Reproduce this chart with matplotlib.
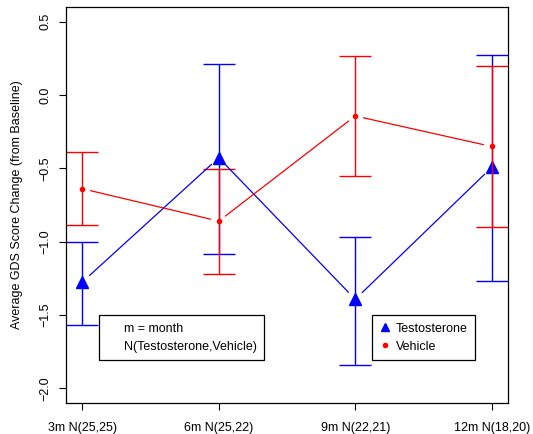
import numpy as np
import matplotlib
matplotlib.use("Agg")
import matplotlib.pyplot as plt
from matplotlib.lines import Line2D

plt.rcParams['font.family'] = ['Liberation Sans', 'DejaVu Sans']

# data
labels = ["3m N(25,25)", "6m N(25,22)", "9m N(22,21)", "12m N(18,20)"]
testo_mean = [-1.275, -0.428, -1.393, -0.494]
testo_upper = [-1.000, 0.210, -0.969, 0.272]
testo_lower = [-1.567, -1.087, -1.843, -1.268]
vehicle_mean = [-0.639, -0.860, -0.143, -0.351]
vehicle_upper = [-0.389, -0.505, 0.267, 0.199]
vehicle_lower = [-0.888, -1.218, -0.550, -0.899]

x = np.arange(1, len(labels) + 1)

fig = plt.figure(figsize=(5.33, 4.34), dpi=100)
ax = fig.add_axes([0.1238, 0.0714, 0.8293, 0.9125])

def draw_series(mean, lo, hi, color, marker, ms, gap):
    mean = np.array(mean)
    err = [mean - np.array(lo), np.array(hi) - mean]
    ax.errorbar(x, mean, yerr=err, fmt='none', ecolor=color, elinewidth=1.0,
                capsize=11.2, capthick=1.0)
    # R type="b": segments stop short of the points
    for i in range(len(x) - 1):
        ax.annotate("", xy=(x[i + 1], mean[i + 1]), xytext=(x[i], mean[i]),
                    arrowprops=dict(arrowstyle='-', color=color, lw=0.9,
                                    shrinkA=gap, shrinkB=gap))
    ax.plot(x, mean, marker, color=color, ms=ms, ls='none')

draw_series(testo_mean, testo_lower, testo_upper, 'blue', '^', 8, 7)
draw_series(vehicle_mean, vehicle_lower, vehicle_upper, 'red', 'o', 3, 6)

ax.set_xlim(0.88, 4.12)
ax.set_ylim(-2.1, 0.6)
ax.set_xticks(x)
ax.set_xticklabels(labels, fontsize=9)
ax.set_yticks([-2.0, -1.5, -1.0, -0.5, 0.0, 0.5])
ax.set_yticklabels(["\u22122.0", "\u22121.5", "\u22121.0", "\u22120.5", "0.0", "0.5"],
                   rotation=90, va='center', fontsize=9)
ax.tick_params(length=5, width=0.8)
ax.tick_params(axis='x', pad=8.5)
ax.tick_params(axis='y', pad=5.5)
ax.set_ylabel("Average GDS Score Change (from Baseline)", fontsize=9, labelpad=12)
for s in ax.spines.values():
    s.set_linewidth(0.9)

# note legend
blank = [Line2D([], [], ls='none'), Line2D([], [], ls='none')]
leg1 = ax.legend(blank, ["m = month", "N(Testosterone,Vehicle)"], loc='upper left',
                 bbox_to_anchor=(0.0753, 0.222), borderaxespad=0, fontsize=9,
                 fancybox=False, edgecolor='black', framealpha=1,
                 handlelength=0.8, handletextpad=0.55, borderpad=0.6,
                 labelspacing=0.5)
leg1.get_frame().set_linewidth(0.9)
ax.add_artist(leg1)

handles = [Line2D([], [], marker='^', color='blue', ls='none', ms=6),
           Line2D([], [], marker='o', color='red', ls='none', ms=3)]
leg2 = ax.legend(handles, ["Testosterone", "Vehicle"], loc='upper left',
                 bbox_to_anchor=(0.693, 0.222), borderaxespad=0, fontsize=9,
                 fancybox=False, edgecolor='black', framealpha=1,
                 handlelength=0.8, handletextpad=0.5, borderpad=0.6,
                 labelspacing=0.5)
leg2.get_frame().set_linewidth(0.9)

fig.savefig("out.png", dpi=100)
